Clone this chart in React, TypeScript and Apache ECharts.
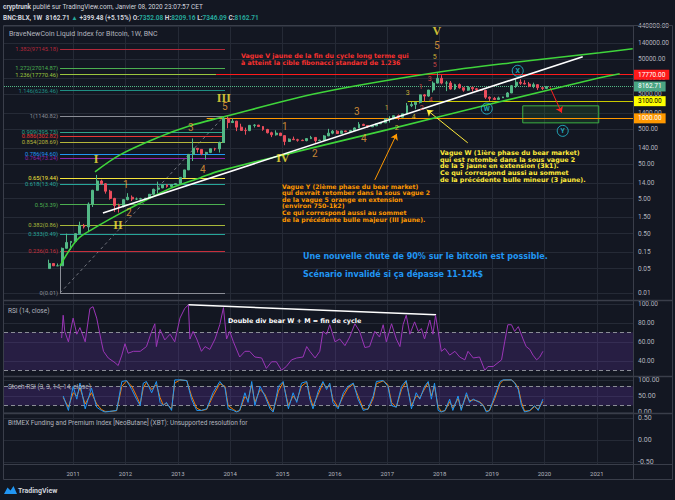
import React, { useEffect, useRef } from "react";
import * as echarts from "echarts";

// ---------- time range of the visible window (decimal years) ----------
const T_MIN = 2009.68;
const T_MAX = 2021.69;

// ---------- monthly candles, Jul 2010 .. Jan 2020 ----------
const FIRST_YEAR = 2010;
const FIRST_MONTH = 7;
const open = [
  0.05, 0.07, 0.06, 0.06, 0.19, 0.28,
  0.3, 0.5, 0.86, 0.78, 3.5, 8.7, 16.1, 13.4, 8.2, 5.1, 3.2, 3.0,
  4.7, 5.5, 4.9, 4.9, 5.0, 5.2, 6.7, 9.3, 10.2, 12.4, 11.2, 12.6,
  13.5, 20.4, 33.4, 93, 139, 129, 97, 106, 135, 133, 204, 1000,
  757, 830, 560, 450, 445, 630, 640, 585, 480, 387, 338, 378,
  320, 218, 254, 244, 236, 230, 263, 284, 230, 236, 314, 377,
  430, 368, 437, 416, 448, 531, 673, 624, 573, 609, 698, 742,
  963, 970, 1190, 1080, 1350, 2300, 2480, 2875, 4700, 4340, 6470, 10200,
  14000, 10200, 10300, 6900, 9240, 7500, 6400, 7730, 7030, 6620, 6320, 4020,
  3740, 3460, 3850, 4100, 5320, 8570, 10800, 10080, 9600, 8300, 9200, 7550,
  7200,
];
const high = [
  0.09, 0.07, 0.07, 0.2, 0.5, 0.3,
  0.5, 1.1, 0.95, 3.9, 9.0, 24, 17.5, 14.0, 9.0, 5.3, 3.6, 4.8,
  7.2, 6.2, 5.4, 5.3, 5.2, 6.8, 9.7, 15.4, 12.6, 12.9, 12.9, 13.8,
  20.8, 33.6, 95, 266, 140, 129, 110, 135, 143, 215, 1120, 1141,
  1000, 850, 700, 540, 630, 680, 650, 600, 500, 415, 455, 385,
  320, 265, 300, 260, 247, 267, 315, 285, 245, 330, 500, 465,
  460, 440, 440, 466, 550, 780, 700, 625, 615, 720, 755, 975,
  1150, 1200, 1290, 1350, 2760, 2980, 2920, 4770, 4980, 6470, 11400, 19500,
  17200, 11800, 11700, 9750, 9990, 7760, 8480, 7760, 7400, 6800, 6570, 4250,
  4100, 4200, 4150, 5640, 9000, 13800, 13200, 12300, 10950, 10500, 9500, 7750,
  8450,
];
const low = [
  0.05, 0.06, 0.06, 0.06, 0.19, 0.17,
  0.29, 0.5, 0.7, 0.55, 2.9, 8.5, 12.5, 7.0, 4.7, 2.1, 2.0, 2.8,
  4.5, 4.3, 4.6, 4.7, 4.9, 5.2, 6.5, 7.1, 10.0, 10.3, 10.5, 12.4,
  13.3, 19.8, 33, 60, 105, 88, 66, 101, 118, 105, 198, 520,
  750, 430, 450, 340, 430, 545, 570, 440, 370, 290, 320, 310,
  170, 212, 240, 215, 228, 220, 255, 199, 225, 236, 310, 350,
  355, 365, 400, 414, 440, 525, 605, 530, 570, 605, 690, 735,
  760, 940, 890, 1070, 1350, 2100, 1830, 2670, 2980, 4150, 5500, 10000,
  9400, 6000, 6600, 6450, 7050, 5780, 6120, 5880, 6150, 6200, 3600, 3150,
  3400, 3400, 3850, 4080, 5300, 7450, 9050, 9400, 7800, 7300, 6500, 6450,
  6880,
];
const close = [
  0.07, 0.06, 0.06, 0.19, 0.28, 0.3,
  0.5, 0.86, 0.78, 3.5, 8.7, 16.1, 13.4, 8.2, 5.1, 3.2, 3.0, 4.7,
  5.5, 4.9, 4.9, 5.0, 5.2, 6.7, 9.3, 10.2, 12.4, 11.2, 12.6, 13.5,
  20.4, 33.4, 93, 139, 129, 97, 106, 135, 133, 204, 1000, 757,
  830, 560, 450, 445, 630, 640, 585, 480, 387, 338, 378, 320,
  218, 254, 244, 236, 230, 263, 284, 230, 236, 314, 377, 430,
  368, 437, 416, 448, 531, 673, 624, 573, 609, 698, 742, 963,
  970, 1190, 1080, 1350, 2300, 2480, 2875, 4700, 4340, 6470, 10200, 14000,
  10200, 10300, 6900, 9240, 7500, 6400, 7730, 7030, 6620, 6320, 4020, 3740,
  3460, 3850, 4100, 5320, 8570, 10800, 10080, 9600, 8300, 9200, 7550, 7200,
  8162.71,
];

// ---------- axis ticks ----------
const priceTicks = [0.01, 0.05, 0.15, 0.5, 1.5, 5, 14, 50, 140, 500, 1400, 5000, 14000, 50000, 140000, 440000];
const yearTicks = [2011, 2012, 2013, 2014, 2015, 2016, 2017, 2018, 2019, 2020, 2021];
const rsiTicks = [40, 60, 80, 100];
const stochTicks = [0, 50, 100];
const fundTicks = [-0.5, 0, 0.5];

// ---------- fibonacci extension ----------
const fibRatios = ["1.382", "1.272", "1.236", "1.146", "1", "0.909", "0.886", "0.854", "0.786", "0.764", "0.65", "0.618", "0.5", "0.382", "0.333", "0.236", "0"];
const fibPrices = [97145.18, 27014.87, 17770.46, 6236.46, 1140.82, 395.73, 302.82, 208.69, 94.6, 73.24, 19.44, 13.4, 3.39, 0.86, 0.49, 0.16, 0.01];
const fibColors = ["#b3283a", "#4caf50", "#9bc53d", "#1f8f84", "#8a8d96", "#2fa58a", "#e53935", "#b5b53a", "#2196f3", "#8e24aa", "#f5e63b", "#26a69a", "#4caf50", "#a8b83a", "#26a69a", "#c62f3c", "#8a8d96"];
const FIB_START = 2010.75;
const FIB_END = 2013.9;

// ---------- horizontal price levels ----------
const levelValues = [17770, 8162.71, 3100, 1000];
const levelTexts = ["17770.00", "8162.71", "3100.00", "1000.00"];
const levelStarts = [2013.73, T_MIN, 2017.39, 2013.55];

// ---------- drawn trend lines / channels ----------
const upperChannel = [[2011.417, 29.3], [2011.894, 90], [2012.6, 276], [2013.23, 610], [2013.802, 1033], [2015.711, 5380], [2017.905, 20140], [2019.527, 41580], [2021.054, 75300], [2021.684, 98000]];
const lowerChannel = [[2010.749, 0.0594], [2011.073, 0.33], [2011.378, 0.682], [2012.027, 2.39], [2012.791, 8.94], [2013.42, 19.7], [2013.802, 31.3], [2015.329, 117], [2016.989, 468], [2019.146, 2970], [2021.054, 14460], [2021.436, 18840]];
const whiteTrend = [[2011.569, 1.96], [2020.73, 57800]];
const dashedTrend = [[2010.75, 0.01], [2013.88, 1140.82]];

// ---------- wave labels ----------
const romanWaves = [["I", 2011.436, 69.2], ["II", 2011.856, 0.888], ["III", 2013.878, 3870], ["IV", 2015.004, 73.8], ["V", 2017.943, 321000]];
const orangeWaves = [["5", 2013.897, 2137], ["1", 2012.008, 12.4], ["2", 2012.065, 1.96], ["3", 2013.249, 534], ["4", 2013.478, 33.4], ["1", 2015.043, 571], ["2", 2015.615, 96], ["3", 2016.417, 1536], ["4", 2016.55, 259], ["5", 2017.943, 119500]];
const minorYellowWaves = [["1", 2016.989, 2000], ["2", 2017.18, 534], ["3", 2017.39, 5380], ["4", 2017.504, 1104], ["5", 2017.905, 57800]];
const minorRedWaves = [["1", 2017.638, 8000], ["2", 2017.657, 2000], ["3", 2017.81, 13540], ["4", 2017.829, 3390], ["5", 2017.905, 34100]];
const circledWaves = [["W", 2018.898, 1900], ["X", 2019.489, 22970], ["Y", 2020.348, 438]];

const arrowFrom = [[2020.1, 8000], [2018.535, 199], [2016.76, 17.3]];
const arrowTo = [[2020.329, 1438], [2017.752, 1753], [2017.18, 360]];
const arrowColors = ["#ff2020", "#ffeb3b", "#ff9800"];

const targetBox = [[2019.585, 2280], [2021.036, 743]];

// ---------- RSI (14) ----------
const rsi = [
  [2010.78, 64], [2010.81, 88], [2010.84, 71], [2010.91, 60], [2011.0, 85], [2011.07, 68], [2011.13, 75], [2011.23, 60], [2011.32, 95], [2011.38, 97],
  [2011.45, 85], [2011.54, 60], [2011.58, 50], [2011.67, 43], [2011.8, 38], [2011.86, 35], [2011.93, 46], [2011.99, 58], [2012.05, 48], [2012.15, 50],
  [2012.28, 50], [2012.4, 55], [2012.5, 71], [2012.56, 79], [2012.59, 55], [2012.66, 73], [2012.75, 62], [2012.85, 68], [2012.94, 60], [2013.04, 85],
  [2013.13, 95], [2013.2, 99], [2013.23, 63], [2013.29, 71], [2013.36, 63], [2013.45, 50], [2013.52, 55], [2013.61, 52], [2013.71, 63], [2013.8, 78],
  [2013.87, 96], [2013.93, 63], [2013.99, 71], [2014.06, 60], [2014.18, 44], [2014.28, 50], [2014.37, 50], [2014.47, 44], [2014.6, 43], [2014.69, 32],
  [2014.79, 39], [2014.88, 39], [2014.98, 30], [2015.07, 34], [2015.17, 41], [2015.27, 43], [2015.39, 44], [2015.46, 55], [2015.52, 50], [2015.62, 43],
  [2015.71, 50], [2015.77, 71], [2015.84, 68], [2015.9, 78], [2016.0, 60], [2016.09, 63], [2016.19, 56], [2016.28, 65], [2016.38, 79], [2016.47, 71],
  [2016.57, 54], [2016.66, 55], [2016.76, 71], [2016.85, 65], [2016.92, 78], [2016.98, 60], [2017.08, 79], [2017.17, 63], [2017.24, 55], [2017.3, 78],
  [2017.36, 88], [2017.43, 68], [2017.52, 81], [2017.59, 71], [2017.65, 74], [2017.71, 63], [2017.81, 83], [2017.87, 68], [2017.92, 88], [2017.97, 71],
  [2018.03, 50], [2018.1, 53], [2018.19, 46], [2018.29, 50], [2018.38, 44], [2018.48, 41], [2018.54, 50], [2018.64, 43], [2018.76, 44], [2018.86, 30],
  [2018.92, 34], [2019.02, 34], [2019.18, 41], [2019.24, 60], [2019.3, 78], [2019.37, 78], [2019.43, 71], [2019.5, 76], [2019.59, 63], [2019.65, 55],
  [2019.72, 52], [2019.78, 46], [2019.85, 41], [2019.91, 44], [2019.97, 50],
];
const rsiDivergence = [[2013.2, 99], [2017.93, 88.5]];

// ---------- Stoch RSI: [time, K, D] ----------
const stochRows = [
  [2010.81, 50, 45], [2010.91, 5, 15], [2011.0, 80, 60], [2011.07, 40, 50], [2011.13, 90, 75], [2011.23, 10, 25], [2011.35, 75, 60], [2011.45, 15, 25], [2011.54, 5, 8], [2011.61, 0, 2],
  [2011.7, 2, 2], [2011.83, 5, 4], [2011.93, 95, 80], [2012.02, 98, 97], [2012.12, 70, 80], [2012.21, 40, 50], [2012.28, 20, 25], [2012.34, 90, 75], [2012.4, 95, 92], [2012.5, 60, 70],
  [2012.59, 95, 85], [2012.66, 30, 45], [2012.72, 20, 22], [2012.78, 30, 27], [2012.88, 5, 10], [2012.94, 100, 90], [2013.04, 100, 100], [2013.17, 98, 98], [2013.26, 40, 50], [2013.36, 5, 12],
  [2013.45, 5, 5], [2013.55, 10, 8], [2013.67, 60, 50], [2013.8, 95, 88], [2013.9, 75, 80], [2013.96, 10, 20], [2014.06, 5, 8], [2014.12, 0, 2], [2014.18, 5, 4], [2014.28, 60, 48],
  [2014.34, 30, 38], [2014.41, 95, 85], [2014.47, 20, 30], [2014.57, 80, 70], [2014.66, 50, 55], [2014.76, 10, 18], [2014.82, 0, 3], [2014.92, 80, 65], [2015.01, 95, 92], [2015.11, 10, 20],
  [2015.2, 60, 50], [2015.27, 30, 35], [2015.36, 90, 80], [2015.46, 95, 93], [2015.52, 40, 50], [2015.58, 10, 18], [2015.68, 65, 55], [2015.77, 95, 90], [2015.84, 70, 75], [2015.9, 90, 85],
  [2015.96, 30, 40], [2016.06, 10, 15], [2016.16, 60, 50], [2016.25, 80, 75], [2016.35, 90, 87], [2016.44, 40, 50], [2016.54, 5, 10], [2016.63, 10, 8], [2016.73, 50, 42], [2016.79, 95, 88],
  [2016.92, 98, 97], [2017.01, 80, 85], [2017.08, 20, 30], [2017.17, 15, 15], [2017.27, 80, 70], [2017.36, 98, 95], [2017.46, 10, 20], [2017.55, 60, 50], [2017.62, 40, 45], [2017.71, 80, 72],
  [2017.78, 95, 92], [2017.84, 40, 50], [2017.9, 90, 80], [2017.97, 5, 15], [2018.03, 0, 2], [2018.1, 5, 4], [2018.19, 40, 32], [2018.25, 5, 12], [2018.35, 50, 42], [2018.41, 5, 10],
  [2018.51, 60, 52], [2018.57, 30, 35], [2018.64, 40, 38], [2018.76, 30, 32], [2018.83, 20, 22], [2018.89, 0, 3], [2018.95, 5, 4], [2019.05, 50, 42], [2019.15, 95, 88], [2019.21, 100, 99],
  [2019.37, 100, 100], [2019.43, 90, 92], [2019.5, 70, 75], [2019.56, 20, 30], [2019.62, 0, 3], [2019.72, 5, 4], [2019.81, 20, 17], [2019.88, 5, 8], [2019.97, 40, 33],
];

// ---------- style constants ----------
const BG = "#131722";
const GRID_LINE = "#252a36";
const AXIS_TEXT = "#b2b5be";
const FONT = "Roboto, 'Liberation Sans', sans-serif";
const NOTE = "'DejaVu Sans', Verdana, sans-serif";
const UP = "#53b987";
const DOWN = "#eb4d5c";

function txt(x: number, y: number, text: string, fill: string, font: string, extra: any = {}) {
  return {
    type: "text",
    x,
    y,
    z: 100,
    silent: true,
    style: {
      text,
      fill,
      font,
      textAlign: "left",
      align: "left",
      textVerticalAlign: "middle",
      verticalAlign: "middle",
      ...extra,
    },
  };
}

function hLine(y: number, w = 1) {
  return { type: "line", z: 90, silent: true, shape: { x1: 3.5, y1: y, x2: 672.5, y2: y }, style: { stroke: "#3a3e4a", lineWidth: w } };
}
function vLine(x: number) {
  return { type: "line", z: 90, silent: true, shape: { x1: x, y1: 25.5, x2: x, y2: 479.5 }, style: { stroke: "#3a3e4a", lineWidth: 1 } };
}

function buildOption(): any {
  const candleData = close.map((c, i) => [FIRST_YEAR + (FIRST_MONTH - 1 + i + 0.5) / 12, open[i], c, low[i], high[i]]);

  const grids = [
    { left: 4, right: 42, top: 26, height: 274 },
    { left: 4, right: 42, top: 301, height: 75 },
    { left: 4, right: 42, top: 377, height: 36 },
    { left: 4, right: 42, top: 414, height: 50 },
  ];

  const xAxis = grids.map((_, i) => ({
    type: "value",
    gridIndex: i,
    min: T_MIN,
    max: T_MAX,
    axisLine: { show: false },
    axisTick: { show: false, customValues: yearTicks },
    axisLabel:
      i === 3
        ? { show: true, customValues: yearTicks, formatter: (v: number) => String(Math.round(v)), color: AXIS_TEXT, fontSize: 6, fontFamily: FONT, margin: 6 }
        : { show: false },
    splitLine: { show: true, lineStyle: { color: GRID_LINE, width: 1 } },
  }));

  const yLabel = (vals: number[], size = 6.5) => ({
    customValues: vals,
    formatter: (v: number) => v.toFixed(2),
    color: AXIS_TEXT,
    fontSize: size,
    fontFamily: FONT,
    margin: 5,
  });

  const yAxis = [
    {
      type: "log", logBase: 10, gridIndex: 0, min: 0.0063, max: 440000, position: "right",
      axisLine: { show: false }, axisTick: { show: false, customValues: priceTicks },
      axisLabel: yLabel(priceTicks), splitLine: { show: true, lineStyle: { color: GRID_LINE } },
    },
    {
      type: "value", gridIndex: 1, min: 24, max: 103, position: "right",
      axisLine: { show: false }, axisTick: { show: false, customValues: rsiTicks },
      axisLabel: yLabel(rsiTicks), splitLine: { show: true, lineStyle: { color: GRID_LINE } },
    },
    {
      type: "value", gridIndex: 2, min: -3, max: 109, position: "right",
      axisLine: { show: false }, axisTick: { show: false, customValues: stochTicks },
      axisLabel: yLabel(stochTicks, 7), splitLine: { show: true, lineStyle: { color: GRID_LINE } },
    },
    {
      type: "value", gridIndex: 3, min: -0.55, max: 0.59, position: "right",
      axisLine: { show: false }, axisTick: { show: false, customValues: fundTicks },
      axisLabel: yLabel(fundTicks, 7), splitLine: { show: true, lineStyle: { color: GRID_LINE } },
    },
  ];

  const fibLines: any[] = fibPrices.map((p, i) => [
    {
      coord: [FIB_START, p],
      lineStyle: { color: fibColors[i], width: 1, type: "solid" },
      label: { show: true, position: "start", distance: 2, formatter: `${fibRatios[i]}(${p.toFixed(2)})`, color: fibColors[i], fontSize: 5.8, fontFamily: FONT },
    },
    { coord: [i === 2 ? levelStarts[0] : FIB_END, p] },
  ]);
  fibLines.push([
    { coord: [FIB_START, 0.01], lineStyle: { color: "#8a8d96", width: 1, type: "solid" }, label: { show: false } },
    { coord: [FIB_START, 0.06] },
  ]);

  const levelLineColors = ["#ff1a1a", UP, "#c8c800", "#ff9800"];
  const levelBg = ["#ff1a1a", "#4aa583", "#ffff00", "#ff9800"];
  const levelFg = ["#ffffff", "#ffffff", "#000000", "#ffffff"];
  const levelLines = levelValues.map((v, i) => [
    {
      coord: [levelStarts[i], v],
      lineStyle: { color: levelLineColors[i], width: 1, type: i === 1 ? "dotted" : "solid" },
      label: {
        show: true, position: "end", distance: 1, formatter: levelTexts[i], color: levelFg[i],
        backgroundColor: levelBg[i], padding: [2, 4, 1, 4], fontSize: 6.5, fontFamily: FONT,
      },
    },
    { coord: [T_MAX, v] },
  ]);

  const waveSeries = (items: any[], color: string, fontSize: number, family: string, weight: string) => ({
    type: "scatter", xAxisIndex: 0, yAxisIndex: 0, silent: true, z: 12,
    symbolSize: 1, itemStyle: { color: "rgba(0,0,0,0)" },
    data: items.map((w) => ({ name: w[0], value: [w[1], w[2]] })),
    label: { show: true, position: "inside", formatter: "{b}", color, fontSize, fontFamily: family, fontWeight: weight },
  });

  const series: any[] = [
    {
      type: "candlestick", name: "BLX", xAxisIndex: 0, yAxisIndex: 0, data: candleData,
      encode: { x: 0, y: [1, 2, 3, 4] }, barWidth: 2.4, z: 5,
      itemStyle: { color: UP, color0: DOWN, borderColor: UP, borderColor0: DOWN, borderWidth: 1 },
    },
    {
      type: "line", xAxisIndex: 0, yAxisIndex: 0, data: [], silent: true, z: 3,
      markLine: { silent: true, symbol: "none", data: fibLines },
    },
    {
      type: "line", xAxisIndex: 0, yAxisIndex: 0, data: [], silent: true, z: 4,
      markLine: { silent: true, symbol: "none", data: levelLines },
      markArea: {
        silent: true,
        itemStyle: { color: "rgba(60,170,60,0.14)", borderColor: "#3cb043", borderWidth: 1 },
        data: [[{ coord: targetBox[0] }, { coord: targetBox[1] }]],
      },
    },
    {
      type: "line", xAxisIndex: 0, yAxisIndex: 0, data: upperChannel, smooth: 0.35, showSymbol: false, silent: true, z: 6,
      lineStyle: { color: "#3fd43b", width: 1.6 },
    },
    {
      type: "line", xAxisIndex: 0, yAxisIndex: 0, data: lowerChannel, smooth: 0.35, showSymbol: false, silent: true, z: 6,
      lineStyle: { color: "#3fd43b", width: 1.6 },
    },
    {
      type: "line", xAxisIndex: 0, yAxisIndex: 0, data: whiteTrend, showSymbol: false, silent: true, z: 6,
      lineStyle: { color: "#ffffff", width: 1.6 },
    },
    {
      type: "line", xAxisIndex: 0, yAxisIndex: 0, data: dashedTrend, showSymbol: false, silent: true, z: 4,
      lineStyle: { color: "#8a8d96", width: 0.8, type: [3, 3] },
    },
    {
      type: "line", xAxisIndex: 0, yAxisIndex: 0, data: [], silent: true, z: 8,
      markLine: {
        silent: true, symbol: ["none", "arrow"], symbolSize: 6,
        data: arrowFrom.map((f, i) => [
          { coord: f, lineStyle: { color: arrowColors[i], width: 1, type: "solid" }, label: { show: false } },
          { coord: arrowTo[i] },
        ]),
      },
    },
    waveSeries(romanWaves, "#ffeb3b", 12, "'Liberation Serif', serif", "bold"),
    waveSeries(orangeWaves, "#f5a53a", 10, FONT, "normal"),
    waveSeries(minorYellowWaves, "#f5d43b", 7, FONT, "normal"),
    waveSeries(minorRedWaves, "#ef5350", 7, FONT, "normal"),
    {
      type: "scatter", xAxisIndex: 0, yAxisIndex: 0, silent: true, z: 12,
      symbol: "circle", symbolSize: 11,
      itemStyle: { color: "rgba(0,0,0,0)", borderColor: "#26c6da", borderWidth: 1 },
      data: circledWaves.map((w) => ({ name: w[0], value: [w[1], w[2]] })),
      label: { show: true, position: "inside", formatter: "{b}", color: "#26c6da", fontSize: 7, fontFamily: FONT, fontWeight: "bold" },
    },
    // RSI
    {
      type: "line", xAxisIndex: 1, yAxisIndex: 1, data: rsi, showSymbol: false, silent: true, z: 5,
      lineStyle: { color: "#9b36b7", width: 1 },
      markArea: { silent: true, itemStyle: { color: "rgba(120,60,200,0.2)" }, data: [[{ yAxis: 30 }, { yAxis: 70 }]] },
      markLine: {
        silent: true, symbol: "none", label: { show: false },
        data: [
          { yAxis: 70, lineStyle: { color: "#8a8d96", type: [4, 3], width: 1 } },
          { yAxis: 30, lineStyle: { color: "#8a8d96", type: [4, 3], width: 1 } },
          [{ coord: rsiDivergence[0], lineStyle: { color: "#ffffff", width: 1.5, type: "solid" } }, { coord: rsiDivergence[1] }],
        ],
      },
    },
    // Stoch RSI
    {
      type: "line", xAxisIndex: 2, yAxisIndex: 2, data: stochRows.map((r) => [r[0], r[1]]), showSymbol: false, silent: true, z: 6,
      lineStyle: { color: "#2196f3", width: 1 },
      markArea: { silent: true, itemStyle: { color: "rgba(120,60,200,0.22)" }, data: [[{ yAxis: 20 }, { yAxis: 80 }]] },
      markLine: {
        silent: true, symbol: "none", label: { show: false },
        data: [
          { yAxis: 80, lineStyle: { color: "#8a8d96", type: [4, 3], width: 1 } },
          { yAxis: 20, lineStyle: { color: "#8a8d96", type: [4, 3], width: 1 } },
        ],
      },
    },
    {
      type: "line", xAxisIndex: 2, yAxisIndex: 2, data: stochRows.map((r) => [r[0], r[2]]), showSymbol: false, silent: true, z: 5,
      lineStyle: { color: "#f57c00", width: 1 },
    },
    // BitMEX funding pane (empty)
    { type: "line", xAxisIndex: 3, yAxisIndex: 3, data: [], silent: true },
  ];

  const graphic: any[] = [
    hLine(25.5), hLine(479.5), vLine(3.5), vLine(672.5), vLine(633.5),
    hLine(300.5, 1.5), hLine(376.5, 1.5), hLine(413.5, 1.5), hLine(464.5),
    // header
    txt(3, 7, "{b|cryptrunk} publié sur TradingView.com, Janvier 08, 2020 23:07:57 CET", "#d1d4dc", `6.5px ${FONT}`, {
      rich: { b: { fontWeight: "bold", fontSize: 6.5, fontFamily: FONT, fill: "#d1d4dc" } },
    }),
    txt(3, 18, "{w|BNC:BLX, 1W  8162.71} {g|▲} {w|+399.48 (+5.15%)} {w|O:}{g|7352.08} {w|H:}{g|8209.16} {w|L:}{g|7346.09} {w|C:}{g|8162.71}", "#d1d4dc", `bold 6.5px ${FONT}`, {
      rich: {
        w: { fontWeight: "bold", fontSize: 6.5, fontFamily: FONT, fill: "#d1d4dc" },
        g: { fontWeight: "bold", fontSize: 6.5, fontFamily: FONT, fill: "#26a69a" },
      },
    }),
    txt(9, 34, "BraveNewCoin Liquid Index for Bitcoin, 1W, BNC", "#b2b5be", `7px ${FONT}`),
    // notes
    txt(241, 51.5, "Vague V jaune de la fin du cycle long terme qui\nà atteint la cible fibonacci standard de 1.236", "#f7312f", `bold 6.3px ${NOTE}`, {
      textVerticalAlign: "top", verticalAlign: "top", lineHeight: 7,
    }),
    txt(440, 149.6, "Vague W (1ière phase du bear market)\nqui est retombé dans la sous vague 2\nde la 5 jaune en extension (3k1).\nCe qui correspond aussi au sommet\nde la précédente bulle mineur (3 jaune).", "#ffeb3b", `bold 6.4px ${NOTE}`, {
      textVerticalAlign: "top", verticalAlign: "top", lineHeight: 6.75,
    }),
    txt(282, 182.7, "Vague Y (2ième phase du bear market)\nqui devrait retomber dans la sous vague 2\nde la vague 5 orange en extension\n(environ 750-1k2)\nCe qui correspond aussi au sommet\nde la précédente bulle majeur (III jaune).", "#ff9800", `bold 6.2px ${NOTE}`, {
      textVerticalAlign: "top", verticalAlign: "top", lineHeight: 6.65,
    }),
    txt(303, 256, "Une nouvelle chute de 90% sur le bitcoin est possible.", "#2196f3", `bold 8px ${NOTE}`),
    txt(303, 274, "Scénario invalidé si ça dépasse 11-12k$", "#2196f3", `bold 8px ${NOTE}`),
    // pane titles
    txt(8, 311, "RSI (14, close)", "#b2b5be", `6.5px ${FONT}`),
    txt(228, 321, "Double div bear W + M = fin de cycle", "#ffffff", `bold 6.4px ${NOTE}`),
    txt(8, 387, "Stoch RSI (3, 3, 14, 14, close)", "#b2b5be", `6.5px ${FONT}`),
    txt(8, 423, "BitMEX Funding and Premium Index [NeoButane] (XBT): Unsupported resolution for", "#b2b5be", `6.5px ${FONT}`),
    // TradingView logo
    { type: "polygon", z: 100, silent: true, shape: { points: [[4, 494], [7.5, 487.5], [10.5, 490.5], [13.5, 486], [17, 494]] }, style: { fill: "#2196f3" } },
    txt(18, 490.5, "TradingView", "#d1d4dc", `bold 7px ${FONT}`),
  ];

  return {
    animation: false,
    backgroundColor: BG,
    grid: grids,
    xAxis,
    yAxis,
    series,
    graphic,
  };
}

export default function App() {
  const ref = useRef<HTMLDivElement>(null);
  useEffect(() => {
    const chart = echarts.init(ref.current as HTMLDivElement, null, { renderer: "svg" });
    chart.setOption(buildOption());
    return () => chart.dispose();
  }, []);
  return <div ref={ref} style={{ position: "absolute", left: 0, top: 0, width: 675, height: 500 }} />;
}
